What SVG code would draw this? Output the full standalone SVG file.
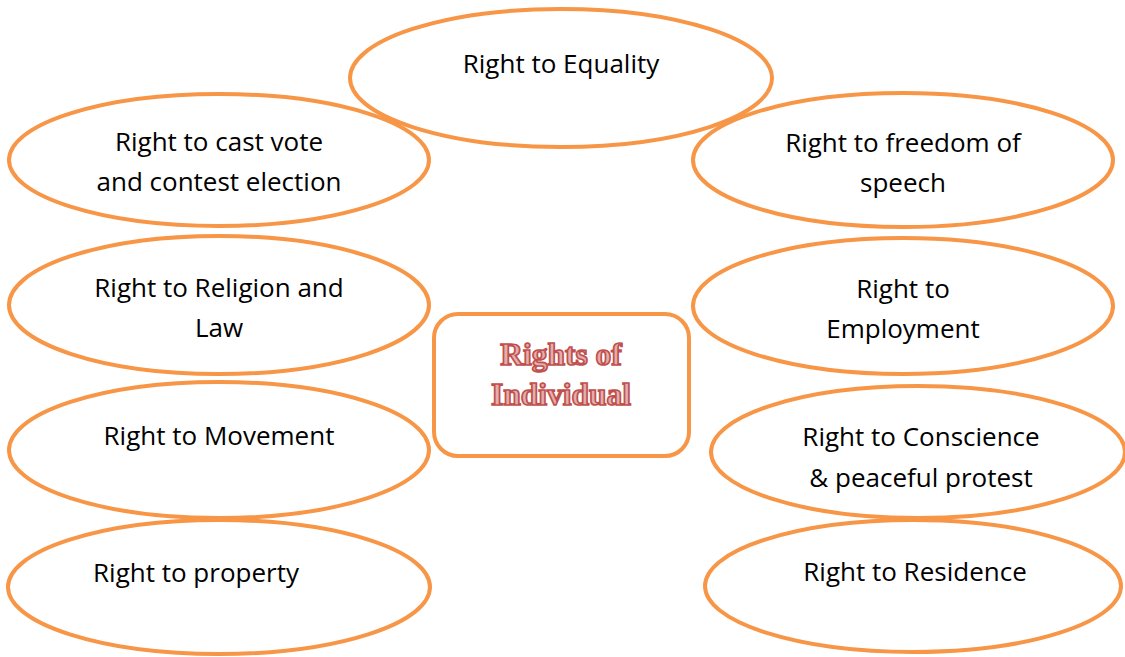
<svg xmlns="http://www.w3.org/2000/svg" width="1125" height="657" viewBox="0 0 1125 657">
<style>
.o{fill:none;stroke:#F79646;stroke-width:4}
.t{font-family:"Open Sans","Liberation Sans",sans-serif;font-size:26px;fill:#000;text-anchor:middle}
.h{font-family:"Liberation Serif",serif;font-weight:bold;font-size:31.5px;fill:#E3AEAC;stroke:#C0504D;stroke-width:1.7;text-anchor:middle}
</style>
<rect width="1125" height="657" fill="#fff"/>
<g id="connectors"/>
<g id="equality"><ellipse class="o" cx="561" cy="78" rx="211" ry="69"/><text class="t" x="561" y="73">Right to Equality</text></g>
<g id="vote"><ellipse class="o" cx="219" cy="160" rx="210" ry="66"/><text class="t" x="219" y="151">Right to cast vote</text><text class="t" x="219" y="191">and contest election</text></g>
<g id="religion"><ellipse class="o" cx="219" cy="305" rx="210" ry="69"/><text class="t" x="219" y="297">Right to Religion and</text><text class="t" x="219" y="337">Law</text></g>
<g id="movement"><ellipse class="o" cx="219" cy="450" rx="210" ry="68"/><text class="t" x="219" y="445">Right to Movement</text></g>
<g id="property"><ellipse class="o" cx="219" cy="587" rx="211" ry="67"/><text class="t" x="196" y="582">Right to property</text></g>
<g id="speech"><ellipse class="o" cx="903" cy="160" rx="210" ry="67"/><text class="t" x="903" y="152">Right to freedom of</text><text class="t" x="903" y="192">speech</text></g>
<g id="employment"><ellipse class="o" cx="903" cy="306" rx="210" ry="68"/><text class="t" x="903" y="298">Right to</text><text class="t" x="903" y="338">Employment</text></g>
<g id="conscience"><ellipse class="o" cx="918" cy="452" rx="207" ry="66"/><text class="t" x="921" y="446">Right to Conscience</text><text class="t" x="921" y="487">&amp; peaceful protest</text></g>
<g id="residence"><ellipse class="o" cx="913" cy="586" rx="208" ry="66"/><text class="t" x="915" y="581">Right to Residence</text></g>
<g id="center"><rect class="o" x="434" y="314" width="255" height="142" rx="24" ry="24"/><text class="h" x="561" y="365">Rights of</text><text class="h" x="561" y="405">Individual</text></g>
</svg>
